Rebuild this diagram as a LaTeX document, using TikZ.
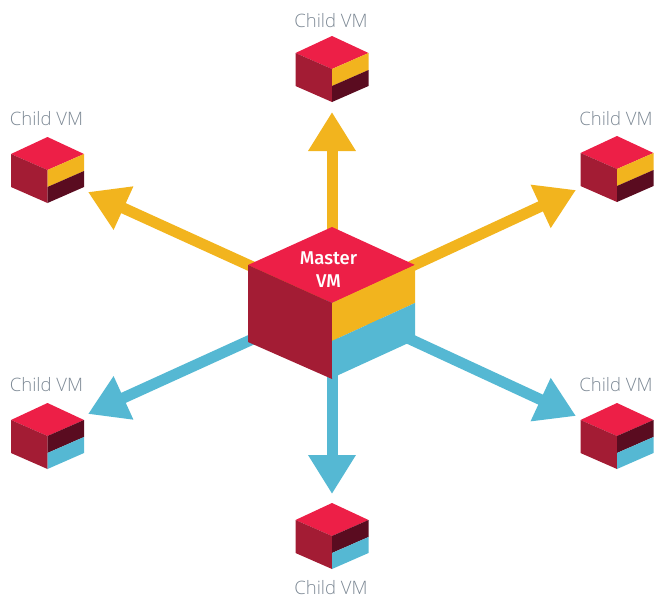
\documentclass[tikz,border=0pt]{standalone}
\usepackage{fontspec}
\setmainfont{Open Sans}
\newfontfamily\lightfont{Open Sans Light}
\newfontfamily\mediumfont{Fira Sans Medium}
\usetikzlibrary{arrows.meta}
\definecolor{cubetop}{HTML}{ED1F47}
\definecolor{cubeside}{HTML}{A31C34}
\definecolor{cubegold}{HTML}{F2B41E}
\definecolor{cubeblue}{HTML}{55B8D3}
\definecolor{cubedark}{HTML}{5A0C20}
\definecolor{labelgrey}{HTML}{7C8894}
\begin{document}
\begin{tikzpicture}[x=1pt, y=-1pt,
    VMlabel/.style={text=labelgrey, font=\fontsize{18.5}{20}\lightfont, inner sep=0pt},
    Master/.style={text=white, font=\fontsize{18.5}{23}\mediumfont, align=center, inner sep=0pt},
    Goldarrow/.style={-{Triangle[length=39pt, width=45pt]}, line width=11pt, cubegold},
    Bluearrow/.style={-{Triangle[length=39pt, width=45pt]}, line width=11pt, cubeblue},
    pics/childcube/.style 2 args={code={
        \fill[cubetop] (0,-33) -- (36.5,-16) -- (0,0) -- (-36.5,-16) -- cycle;
        \fill[cubeside] (-36.5,-16) -- (0,0) -- (0,33) -- (-36.5,17) -- cycle;
        \fill[#1] (0,0) -- (36.5,-16) -- (36.5,1) -- (0,17) -- cycle;
        \fill[#2] (0,17) -- (36.5,1) -- (36.5,17) -- (0,33) -- cycle;
    }}]

    \useasboundingbox (0,0) rectangle (654,597);

    \coordinate (MC) at (332,303);
    \coordinate (TN) at (332,112);
    \coordinate (TNW) at (88,192);
    \coordinate (TNE) at (576,190);
    \coordinate (TSW) at (88,414);
    \coordinate (TSE) at (576,416);
    \coordinate (TS) at (332,494);

    \draw[Goldarrow] (MC) -- (TN);
    \draw[Goldarrow] (MC) -- (TNW);
    \draw[Goldarrow] (MC) -- (TNE);
    \draw[Bluearrow] (MC) -- (TSW);
    \draw[Bluearrow] (MC) -- (TSE);
    \draw[Bluearrow] (MC) -- (TS);

    % master cube
    \fill[cubetop] (332,227) -- (415,265) -- (332,303) -- (248,265) -- cycle;
    \fill[cubeside] (248,265) -- (332,303) -- (332,379) -- (248,342) -- cycle;
    \fill[cubegold] (332,303) -- (415,265) -- (415,303) -- (332,341) -- cycle;
    \fill[cubeblue] (332,341) -- (415,303) -- (415,340) -- (332,378) -- cycle;
    \node[Master] (master) at (328.5,270) {Master\\VM};

    % children
    \pic at (332,69) {childcube={cubegold}{cubedark}};
    \pic at (47.5,170) {childcube={cubegold}{cubedark}};
    \pic at (617,169) {childcube={cubegold}{cubedark}};
    \pic at (47.5,436) {childcube={cubedark}{cubeblue}};
    \pic at (617,436) {childcube={cubedark}{cubeblue}};
    \pic at (332,536) {childcube={cubedark}{cubeblue}};

    \node[VMlabel] (childN) at (331,21) {Child VM};
    \node[VMlabel] (childNW) at (46.5,119) {Child VM};
    \node[VMlabel] (childNE) at (616,119) {Child VM};
    \node[VMlabel] (childSW) at (46.5,385) {Child VM};
    \node[VMlabel] (childSE) at (616,385) {Child VM};
    \node[VMlabel] (childS) at (331,587.5) {Child VM};
\end{tikzpicture}
\end{document}
